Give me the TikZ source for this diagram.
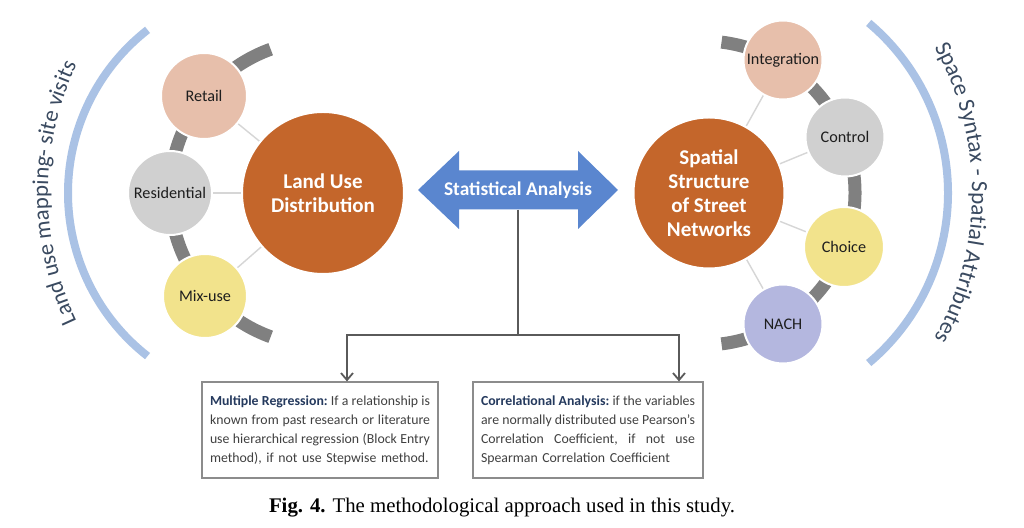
\documentclass[tikz,border=0pt]{standalone}
\usepackage{fontspec}
\setmainfont{Carlito}
\newfontfamily\capfont{Liberation Serif}
\usetikzlibrary{decorations.text,arrows.meta,backgrounds}
\definecolor{orangec}{HTML}{C4662B}
\definecolor{peach}{HTML}{E7BFAB}
\definecolor{lgray}{HTML}{D0D0D0}
\definecolor{pyellow}{HTML}{F2E38C}
\definecolor{lav}{HTML}{B4B7DF}
\definecolor{bandgray}{HTML}{808080}
\definecolor{bluearcc}{HTML}{AAC2E5}
\definecolor{arrowblue}{HTML}{5A86CF}
\definecolor{thinc}{HTML}{D6D6D6}
\definecolor{conngray}{HTML}{5A5A5A}
\definecolor{boxgray}{HTML}{8C8C8C}
\definecolor{navy}{HTML}{253A5E}
\definecolor{bodytext}{HTML}{404040}
\definecolor{darktext}{HTML}{1E1E1E}
\definecolor{sidecol}{HTML}{3A4A60}
\newcommand\sidefontL{\fontsize{11.4}{14}\selectfont\color{sidecol}}
\newcommand\sidefontR{\fontsize{11.6}{14}\selectfont\color{sidecol}}
\newcommand\jline[2]{\makebox[#1][s]{\frenchspacing\spaceskip=.23em plus 1fil minus .05em\xspaceskip=\spaceskip\relax #2}}
\begin{document}
\begin{tikzpicture}[x=0.5pt,y=0.5pt,
  bigc/.style={circle,fill=orangec,draw=white,line width=1pt,text=white,inner sep=0pt,align=center,font=\bfseries\fontsize{10.5}{12}\selectfont},
  smallc/.style={circle,draw=white,line width=1pt,inner sep=0pt,text=darktext,font=\fontsize{8.1}{10}\selectfont},
  bluearc/.style={draw=bluearcc,line width=4pt},
  grayband/.style={draw=bandgray,line width=6.5pt},
  thinl/.style={draw=thinc,line width=0.7pt},
  conn/.style={draw=conngray,line width=0.9pt,-{Straight Barb[length=3.5pt,width=6pt]}},
  boxs/.style={draw=boxgray,line width=0.6pt,inner xsep=4pt,minimum height=48pt,align=left,text=bodytext,font=\fontsize{6.9}{9.5}\selectfont}
]
\useasboundingbox (0,0) rectangle (1024,-528);

% circles
\node[bigc,minimum size=81pt] (lud) at (323,-193) {Land Use\\Distribution};
\node[bigc,minimum size=75.5pt] (ssn) at (709,-193) {Spatial\\Structure\\of Street\\Networks};

\node[smallc,fill=peach,minimum size=43pt] (retail) at (204,-96) {Retail};
\node[smallc,fill=lgray,minimum size=42pt] (resid) at (170,-193) {Residential};
\node[smallc,fill=pyellow,minimum size=42pt] (mix) at (205,-296) {Mix-use};

\node[smallc,fill=peach,minimum size=39.5pt] (integ) at (783,-60) {Integration};
\node[smallc,fill=lgray,minimum size=39.5pt] (control) at (845,-137) {Control};
\node[smallc,fill=pyellow,minimum size=40pt] (choice) at (844,-247) {Choice};
\node[smallc,fill=lav,minimum size=39.5pt] (nach) at (783,-324) {NACH};

\begin{scope}[on background layer]
  \fill[white] (0,0) rectangle (1024,-528);
  \draw[bluearc] (275,-193) ++(128:207) arc[start angle=128,end angle=232,radius=207];
  \draw[bluearc] (726,-193) ++(50:222) arc[start angle=50,end angle=-50,radius=222];
  \draw[grayband] (323,-193) ++(110:153) arc[start angle=110,end angle=250,radius=153];
  \draw[grayband] (703,-193) ++(83:152) arc[start angle=83,end angle=-83,radius=152];
  \draw[thinl] (lud) -- (retail);
  \draw[thinl] (lud) -- (resid);
  \draw[thinl] (lud) -- (mix);
  \draw[thinl] (ssn) -- (integ);
  \draw[thinl] (ssn) -- (control);
  \draw[thinl] (ssn) -- (choice);
  \draw[thinl] (ssn) -- (nach);
\end{scope}

% side texts
\path[decorate,decoration={text along path,text align=center,
  text={|\sidefontL|Land use mapping- site visits}}]
  (348,-193) ++(212:300) arc[start angle=212,end angle=148,radius=300];
\path[decorate,decoration={text along path,text align=center,
  text={|\sidefontR|Space Syntax - Spatial Attributes}}]
  (672,-193) ++(35:300) arc[start angle=35,end angle=-35,radius=300];

% double arrow
\fill[arrowblue] (418,-190) -- (459,-151) -- (459,-170.5) -- (578,-170.5) -- (578,-151)
  -- (618,-190) -- (578,-229) -- (578,-209.5) -- (459,-209.5) -- (459,-229) -- cycle;
\node[font=\bfseries\fontsize{9.7}{11}\selectfont,text=white,minimum height=19.5pt,inner sep=0pt] (sa) at (518,-190) {Statistical Analysis};

% boxes
\node[boxs,text width=110pt] (mr) at (320,-430) {%
\jline{110pt}{{\bfseries\color{navy}Multiple Regression:} If a relationship is}\\
\jline{110pt}{known from past research or literature}\\
\jline{110pt}{use hierarchical regression (Block Entry}\\
method), if not use Stepwise method.};
\node[boxs,text width=107pt] (ca) at (588,-430) {%
\jline{107pt}{{\bfseries\color{navy}Correlational Analysis:} if the variables}\\
\jline{107pt}{are normally distributed use Pearson's}\\
\jline{107pt}{Correlation Coefficient, if not use}\\
Spearman Correlation Coefficient};

% connectors
\coordinate (jl) at (347,-335);
\coordinate (jr) at (679,-335);
\draw[conn] (sa.south) |- (jl) -- (jl |- mr.north);
\draw[conn] (sa.south) |- (jr) -- (jr |- ca.north);

% caption
\node[font=\capfont\fontsize{10.4}{12}\selectfont,text=black] (cap) at (502,-508)
  {\textbf{Fig. 4.} The methodological approach used in this study.};
\end{tikzpicture}
\end{document}
